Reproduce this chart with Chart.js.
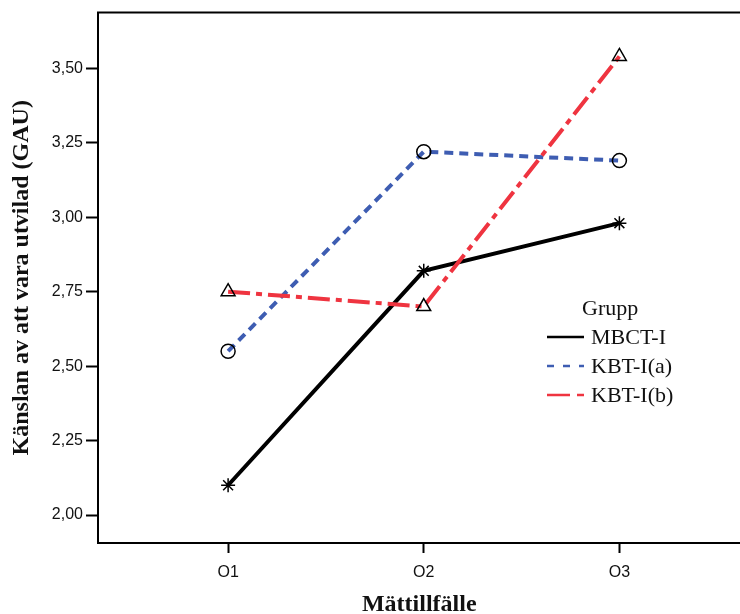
<!DOCTYPE html>
<html>
<head>
<meta charset="utf-8">
<script src="https://cdn.jsdelivr.net/npm/chart.js@4"></script>
<style>
  html, body { margin: 0; background: #fff; overflow: hidden; }
  #wrap { width: 750px; height: 614px; }
  canvas { display: block; }
</style>
</head>
<body>
<div id="wrap"><canvas id="grafik"></canvas></div>
<script>
// Data
const matningar = ['O1', 'O2', 'O3'];
const mbct = [2.10, 2.82, 2.98];
const kbtA = [2.55, 3.22, 3.19];
const kbtB = [2.75, 2.70, 3.54];
const yTicks = [2.00, 2.25, 2.50, 2.75, 3.00, 3.25, 3.50];

const svart = '#000000';
const bla = '#3e5db2';
const rod = '#ef3440';

function punkter(values) {
    return values.map((v, i) => ({ x: i, y: v }));
}

// Ram upptill + egen legend
const ramOchLegend = {
    id: 'ramOchLegend',
    afterDraw(chart) {
        const c = chart.ctx;
        const a = chart.chartArea;
        c.save();
        c.strokeStyle = svart;
        c.lineWidth = 2;
        c.beginPath();
        c.moveTo(a.left - 1, a.top);
        c.lineTo(a.right, a.top);
        c.stroke();

        c.fillStyle = '#111';
        c.font = '22px "Liberation Serif"';
        c.textBaseline = 'middle';
        c.fillText('Grupp', 582, 309);
        const rader = [
            { text: 'MBCT-I', color: svart, dash: [], y: 337 },
            { text: 'KBT-I(a)', color: bla, dash: [7, 9], y: 366 },
            { text: 'KBT-I(b)', color: rod, dash: [23, 7, 7, 7], y: 395 }
        ];
        rader.forEach(r => {
            c.strokeStyle = r.color;
            c.lineWidth = 2.5;
            c.setLineDash(r.dash);
            c.beginPath();
            c.moveTo(547, r.y);
            c.lineTo(584, r.y);
            c.stroke();
            c.setLineDash([]);
            c.fillText(r.text, 591, r.y + 1);
        });
        c.restore();
    }
};

const ctx = document.getElementById('grafik').getContext('2d');
new Chart(ctx, {
    type: 'line',
    data: {
        datasets: [{
            label: 'MBCT-I',
            data: punkter(mbct),
            borderColor: svart,
            borderWidth: 4,
            pointStyle: 'star',
            pointRadius: 7,
            pointBorderColor: svart,
            pointBackgroundColor: 'rgba(0,0,0,0)',
            pointBorderWidth: 1.5,
            order: 2
        }, {
            label: 'KBT-I(a)',
            data: punkter(kbtA),
            borderColor: bla,
            borderWidth: 4,
            borderDash: [9, 6],
            pointStyle: 'circle',
            pointRadius: 7,
            pointBorderColor: svart,
            pointBackgroundColor: 'rgba(0,0,0,0)',
            pointBorderWidth: 1.5,
            order: 1
        }, {
            label: 'KBT-I(b)',
            data: punkter(kbtB),
            borderColor: rod,
            borderWidth: 4,
            borderDash: [22, 6, 6, 6],
            pointStyle: 'triangle',
            pointRadius: 8,
            pointBorderColor: svart,
            pointBackgroundColor: 'rgba(0,0,0,0)',
            pointBorderWidth: 1.5,
            order: 0
        }]
    },
    options: {
        responsive: true,
        maintainAspectRatio: false,
        animation: false,
        layout: { padding: { top: 6, right: 0, left: 0, bottom: 0 } },
        plugins: { legend: { display: false }, tooltip: { enabled: false } },
        scales: {
            x: {
                type: 'linear',
                min: -0.665,
                max: 2.619,
                afterBuildTicks: s => { s.ticks = matningar.map((m, i) => ({ value: i })); },
                afterFit: s => { s.height = 71; },
                border: { color: svart, width: 2 },
                grid: { drawOnChartArea: false, tickLength: 10, tickColor: svart, tickWidth: 2 },
                ticks: {
                    color: '#111',
                    font: { family: '"Liberation Sans"', size: 16 },
                    padding: 10,
                    maxRotation: 0,
                    callback: v => matningar[v]
                },
                title: {
                    display: true,
                    text: 'Mättillfälle',
                    color: '#111',
                    font: { family: '"Liberation Serif"', size: 24, weight: 'bold', lineHeight: 0.8 },
                    padding: { top: 0, bottom: 0 }
                }
            },
            y: {
                min: 1.906,
                max: 3.687,
                afterBuildTicks: s => { s.ticks = yTicks.map(v => ({ value: v })); },
                afterFit: s => { s.width = 98; },
                border: { color: svart, width: 2 },
                grid: { drawOnChartArea: false, tickLength: 12, tickColor: svart, tickWidth: 2 },
                ticks: {
                    color: '#111',
                    font: { family: '"Liberation Sans"', size: 16 },
                    padding: 3,
                    callback: v => v.toFixed(2).replace('.', ',')
                },
                title: {
                    display: true,
                    text: 'Känslan av att vara utvilad (GAU)',
                    color: '#111',
                    font: { family: '"Liberation Serif"', size: 24, weight: 'bold', lineHeight: 1 },
                    padding: { top: 10, bottom: 0 }
                }
            }
        }
    },
    plugins: [ramOchLegend]
});
</script>
</body>
</html>
